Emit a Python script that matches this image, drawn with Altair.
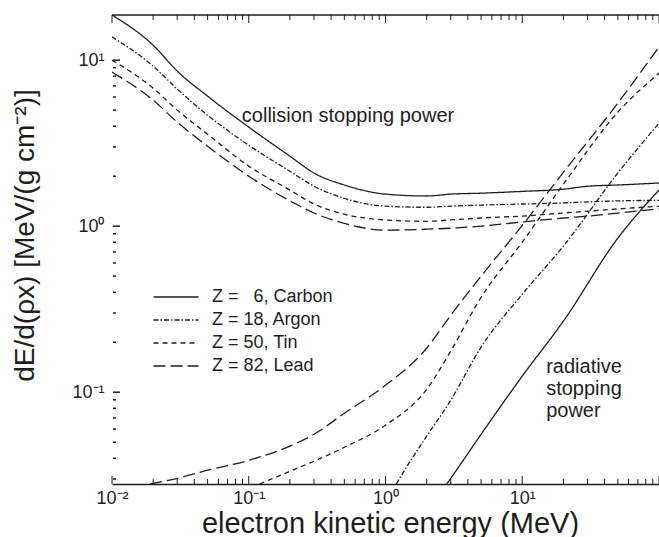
import altair as alt
import pandas as pd

# ---------------- data ----------------
energy_coll = [0.01, 0.02, 0.03, 0.05, 0.1, 0.2, 0.3, 0.5, 1, 2, 3, 5, 10, 20, 30, 50, 100]
coll_carbon = [18.7, 12.3, 8.59, 6.07, 3.95, 2.64, 2.09, 1.77, 1.56, 1.52, 1.56, 1.58, 1.62, 1.67, 1.74, 1.77, 1.82]
coll_argon = [13.8, 9.20, 6.69, 4.66, 3.07, 2.14, 1.74, 1.47, 1.32, 1.30, 1.32, 1.34, 1.36, 1.38, 1.40, 1.42, 1.43]
coll_tin = [10.0, 6.78, 5.00, 3.58, 2.30, 1.65, 1.36, 1.18, 1.09, 1.07, 1.09, 1.12, 1.15, 1.20, 1.23, 1.27, 1.32]
coll_lead = [8.47, 5.74, 4.23, 3.03, 2.00, 1.42, 1.20, 1.04, 0.946, 0.959, 0.972, 1.00, 1.06, 1.12, 1.15, 1.20, 1.27]

rad_lead_e = [0.019, 0.03, 0.05, 0.1, 0.2, 0.3, 0.5, 1, 2, 3, 5, 10, 20, 50, 100]
rad_lead = [0.028, 0.0303, 0.0339, 0.0389, 0.0473, 0.0558, 0.0747, 0.110, 0.184, 0.291, 0.500, 1.01, 2.11, 5.51, 12.0]
rad_tin_e = [0.12, 0.2, 0.3, 0.5, 1, 2, 3, 5, 10, 20, 50, 100]
rad_tin = [0.028, 0.0334, 0.0384, 0.0466, 0.0633, 0.104, 0.177, 0.373, 0.801, 1.79, 4.86, 8.35]
rad_argon_e = [1.2, 1.5, 2, 3, 5, 10, 20, 50, 100]
rad_argon = [0.028, 0.0379, 0.0543, 0.0895, 0.187, 0.389, 0.758, 2.09, 4.17]
rad_carbon_e = [2.8, 3, 5, 10, 20, 50, 100]
rad_carbon = [0.028, 0.0303, 0.0558, 0.125, 0.268, 0.847, 1.65]

elements = ["Z = \u20076, Carbon", "Z = 18, Argon", "Z = 50, Tin", "Z = 82, Lead"]
dashes = [[1, 0], [5, 2, 1.5, 2], [5, 4], [12, 5]]

x_major = [0.01, 0.1, 1, 10, 100]
y_major = [0.1, 1, 10]
mantissas = [2, 3, 4, 5, 6, 7, 8, 9]

annot_x = [0.089, 14.96]
annot_y = [4.23, 0.130]
annot_text = ["collision stopping power", "radiative\nstopping\npower"]

# ---------------- tables ----------------
rows = []
coll = [coll_carbon, coll_argon, coll_tin, coll_lead]
for el, vals in zip(elements, coll):
    for e, v in zip(energy_coll, vals):
        rows.append({"energy": e, "value": v, "element": el, "kind": "collision"})
rad = [(rad_carbon_e, rad_carbon), (rad_argon_e, rad_argon), (rad_tin_e, rad_tin), (rad_lead_e, rad_lead)]
for el, (es, vals) in zip(elements, rad):
    for e, v in zip(es, vals):
        rows.append({"energy": e, "value": v, "element": el, "kind": "radiative"})
df = pd.DataFrame(rows)

x_minor = [m * d for d in x_major[:-1] for m in mantissas]
y_minor = [m * d for d in [0.01, 0.1, 1, 10] for m in mantissas]
y_minor = [v for v in y_minor if 0.028 <= v <= 18.7]
xt_major = pd.DataFrame({"energy": x_major})
xt_minor = pd.DataFrame({"energy": x_minor})
yt_major = pd.DataFrame({"value": y_major})
yt_minor = pd.DataFrame({"value": y_minor})
ann = pd.DataFrame({"energy": annot_x, "value": annot_y, "text": annot_text})

W, H = 547, 469
FONT = "Liberation Sans"
INK = "#1e1e1e"

xscale = alt.Scale(type="log", domain=[0.01, 100])
yscale = alt.Scale(type="log", domain=[0.028, 18.7])

X_AXIS = alt.Axis(values=[0.01, 0.1, 1, 10],
                  labelExpr="['10\u207b\u00b2','10\u207b\u00b9','10\u2070','10\u00b9','10\u00b2'][round(log(datum.value)/LN10)+2]",
                  title="electron kinetic energy (MeV)", ticks=False, grid=False, labelFlush=False,
                  domainColor=INK, domainWidth=1.5, labelFontSize=18, labelColor=INK,
                  labelPadding=5, labelFont=FONT, titleFont=FONT, titleFontSize=29,
                  titleFontWeight="normal", titleColor=INK, titleY=48,
                  titleBaseline="alphabetic", titleX=278)
Y_AXIS = alt.Axis(values=y_major,
                  labelExpr="['10\u207b\u00b9','10\u2070','10\u00b9'][round(log(datum.value)/LN10)+1]",
                  title="dE/d(\u03c1x) [MeV/(g cm\u207b\u00b2)]", ticks=False, grid=False,
                  domain=False, labelFontSize=18, labelColor=INK, labelPadding=8, labelFlush=False,
                  labelFont=FONT, titleFont=FONT, titleFontSize=28, titleFontWeight="normal",
                  titleColor=INK, titleAngle=270, titleX=-79, titleY=220,
                  titleBaseline="alphabetic")

LEG_SIZE = 506  # sqrt -> 22.5 px; the path below spans 2x that width
lines = alt.Chart(df).mark_line(clip=True, color=INK, strokeWidth=1.3, interpolate="monotone").encode(
    x=alt.X("energy:Q", scale=xscale, axis=X_AXIS),
    y=alt.Y("value:Q", scale=yscale, axis=Y_AXIS),
    strokeDash=alt.StrokeDash("element:N", scale=alt.Scale(domain=elements, range=dashes),
                              legend=alt.Legend(orient="none", legendX=52, legendY=270, title=None,
                                                symbolType="M-2,0H2", symbolSize=LEG_SIZE,
                                                symbolStrokeWidth=1.3, symbolStrokeColor=INK,
                                                symbolFillColor="transparent",
                                                labelFont=FONT, labelFontSize=18, labelColor=INK,
                                                labelOffset=24, rowPadding=2)),
    detail="kind:N",
    order="energy:Q",
)

def xrule(data, y0, y1):
    return alt.Chart(data).mark_rule(color=INK, strokeWidth=1).encode(
        x=alt.X("energy:Q", scale=xscale, axis=X_AXIS), y=alt.value(y0), y2=alt.value(y1))

def yrule(data, x1):
    return alt.Chart(data).mark_rule(color=INK, strokeWidth=1.5).encode(
        y=alt.Y("value:Q", scale=yscale, axis=Y_AXIS), x=alt.value(1), x2=alt.value(x1))

top_line = alt.Chart(xt_major.head(1)).mark_rule(color=INK, strokeWidth=1.5).encode(
    x=alt.value(0), x2=alt.value(W), y=alt.value(0))

texts = alt.Chart(ann).mark_text(align="left", baseline="alphabetic", font=FONT, fontSize=20,
                                 color=INK, lineBreak="\n", lineHeight=22).encode(
    x=alt.X("energy:Q", scale=xscale, axis=X_AXIS),
    y=alt.Y("value:Q", scale=yscale, axis=Y_AXIS),
    text="text:N",
)

chart = alt.layer(
    lines,
    xrule(xt_minor, H, H - 5), xrule(xt_major, H, H - 8),
    xrule(xt_minor, 0, 5), xrule(xt_major, 0, 8),
    yrule(yt_minor, 4), yrule(yt_major, 8),
    top_line, texts,
).properties(
    width=W, height=H,
    autosize=alt.AutoSizeParams(type="none"),
    padding={"left": 112, "top": 15, "right": 0, "bottom": 53},
    background="white",
).configure_view(stroke=None)

chart.save("out.html", embed_options={"renderer": "svg", "actions": False})
